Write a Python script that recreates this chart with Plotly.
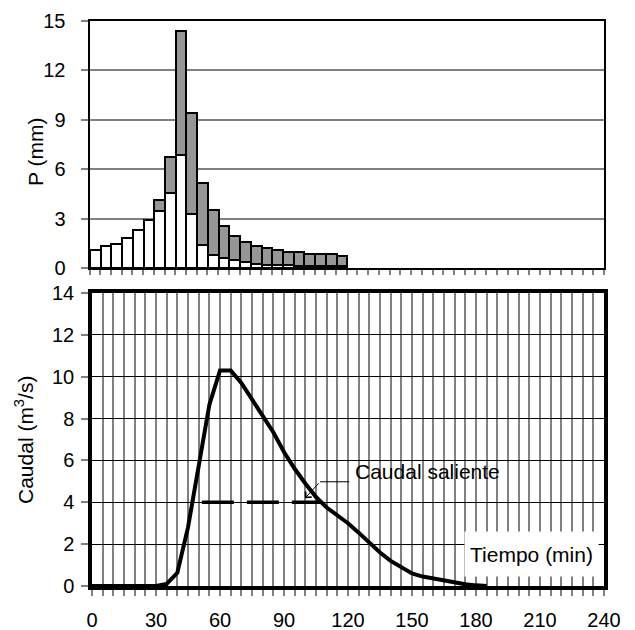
import plotly.graph_objects as go

# ---- Data ----
# Hyetograph (5-min intervals), mid times in minutes
bar_t = [2.5, 7.5, 12.5, 17.5, 22.5, 27.5, 32.5, 37.5, 42.5, 47.5, 52.5, 57.5,
         62.5, 67.5, 72.5, 77.5, 82.5, 87.5, 92.5, 97.5, 102.5, 107.5, 112.5, 117.5]
p_white = [1.07, 1.32, 1.46, 1.80, 2.29, 2.90, 3.49, 4.56, 6.86, 3.26, 1.42, 0.80,
           0.60, 0.48, 0.38, 0.22, 0.18, 0.18, 0.18, 0.14, 0.10, 0.10, 0.10, 0.10]
p_gray = [0, 0, 0, 0, 0, 0, 0.62, 2.20, 7.54, 6.17, 3.77, 2.70,
          1.94, 1.46, 1.20, 1.12, 1.04, 0.92, 0.80, 0.84, 0.74, 0.74, 0.74, 0.62]

# Hydrograph
q_t = [0, 5, 10, 15, 20, 25, 30, 35, 40, 45, 50, 55, 60, 65, 70, 75, 80, 85, 90,
       95, 100, 105, 110, 115, 120, 125, 130, 135, 140, 145, 150, 155, 160, 165,
       170, 175, 180, 185]
q = [0, 0, 0, 0, 0, 0, 0, 0.1, 0.63, 2.8, 5.8, 8.65, 10.3, 10.3, 9.7, 8.9, 8.15,
     7.35, 6.4, 5.6, 4.9, 4.25, 3.75, 3.4, 3.0, 2.55, 2.05, 1.6, 1.2, 0.9, 0.6,
     0.45, 0.35, 0.25, 0.15, 0.08, 0.03, 0]

# Outflow (caudal saliente)
out_t = [51.5, 107.5]
out_q = [4, 4]

W, H = 635, 630
FONT = "Liberation Sans, Arial, sans-serif"
FS = 20
FT = 21
GRAY = "#808080"

def px(xp):
    return xp / W

def py(yp):
    return 1 - yp / H

fig = go.Figure()

fig.add_trace(go.Bar(x=bar_t, y=p_white, width=5, xaxis="x", yaxis="y",
                     marker=dict(color="white", line=dict(color="black", width=2)),
                     showlegend=False))
fig.add_trace(go.Bar(x=bar_t, y=p_gray, width=5, xaxis="x", yaxis="y",
                     marker=dict(color="#969696", line=dict(color="black", width=2)),
                     showlegend=False))

fig.add_trace(go.Scatter(x=q_t, y=q, xaxis="x2", yaxis="y2", mode="lines",
                         line=dict(color="black", width=4), showlegend=False))
fig.add_trace(go.Scatter(x=out_t, y=out_q, xaxis="x2", yaxis="y2", mode="lines",
                         line=dict(color="black", width=3.5, dash="32px,13px"),
                         showlegend=False))

fig.update_layout(
    width=W, height=H,
    margin=dict(l=0, r=0, t=0, b=0),
    paper_bgcolor="white", plot_bgcolor="white",
    font=dict(family=FONT, size=FS, color="black"),
    barmode="stack", bargap=0,
    showlegend=False,
    xaxis=dict(domain=[px(89.5), px(604)], anchor="y", range=[0, 240], automargin=False,
               showticklabels=False, showgrid=False, zeroline=False,
               tick0=0, dtick=30, ticks="outside", ticklen=5, tickcolor=GRAY, tickwidth=1.5,
               minor=dict(dtick=5, ticks="outside", ticklen=5, tickcolor=GRAY, tickwidth=1.5,
                          showgrid=False),
               showline=True, linecolor="black", linewidth=2, mirror=True),
    yaxis=dict(domain=[py(268), py(21)], anchor="x", range=[0, 15], automargin=False,
               tick0=0, dtick=3, showgrid=True, gridcolor=GRAY, gridwidth=1.5,
               zeroline=False, ticks="outside", ticklen=7, tickcolor=GRAY, tickwidth=1.5,
               ticklabelstandoff=11,
               showline=True, linecolor="black", linewidth=2, mirror=True),
    xaxis2=dict(domain=[px(92), px(604)], anchor="y2", range=[0, 240], automargin=False,
                tick0=0, dtick=30, showgrid=True, gridcolor=GRAY, gridwidth=1.5,
                zeroline=False, ticks="outside", ticklen=6, tickcolor=GRAY, tickwidth=1.5,
                ticklabelstandoff=7,
                minor=dict(dtick=5, ticks="outside", ticklen=6, tickcolor=GRAY, tickwidth=1.5,
                           showgrid=True, gridcolor=GRAY, gridwidth=1.5),
                showline=True, linecolor="black", linewidth=3.5, mirror=True),
    yaxis2=dict(domain=[py(586), py(293)], anchor="x2", range=[0, 14], automargin=False,
                tick0=0, dtick=2, showgrid=True, gridcolor="black", gridwidth=1,
                zeroline=False, ticks="outside", ticklen=7, tickcolor=GRAY, tickwidth=1.5,
                ticklabelstandoff=3,
                showline=True, linecolor="black", linewidth=3.5, mirror=True),
)

fig.add_annotation(text="P (mm)", xref="paper", yref="paper", x=px(35), y=py(152),
                   xanchor="center", yanchor="middle",
                   textangle=-90, showarrow=False, font=dict(size=FT))
fig.add_annotation(text="Caudal (m<sup>3</sup>/s)", xref="paper", yref="paper",
                   x=px(24), y=py(440), xanchor="center", yanchor="middle",
                   textangle=-90, showarrow=False, font=dict(size=FT))

fig.add_annotation(text="Tiempo (min)", xref="x2", yref="y2", x=206, y=1.53,
                   width=131, height=42, bgcolor="white", showarrow=False,
                   font=dict(size=FT))

fig.add_annotation(text="Caudal saliente", xref="x2", yref="y2", x=122.3, y=5.49,
                   xanchor="left", showarrow=False, font=dict(size=FT),
                   bgcolor="rgba(0,0,0,0)")
fig.add_annotation(text="", xref="x2", yref="y2", x=99.8, y=4.19,
                   axref="x2", ayref="y2", ax=106.9, ay=4.98,
                   showarrow=True, arrowhead=4, arrowsize=1.6, arrowwidth=1,
                   arrowcolor="black", standoff=0)
fig.add_shape(type="line", xref="x2", yref="y2", x0=106.9, x1=120.6, y0=4.98, y1=4.98,
              line=dict(color="black", width=1))

fig.write_html("out.html")
